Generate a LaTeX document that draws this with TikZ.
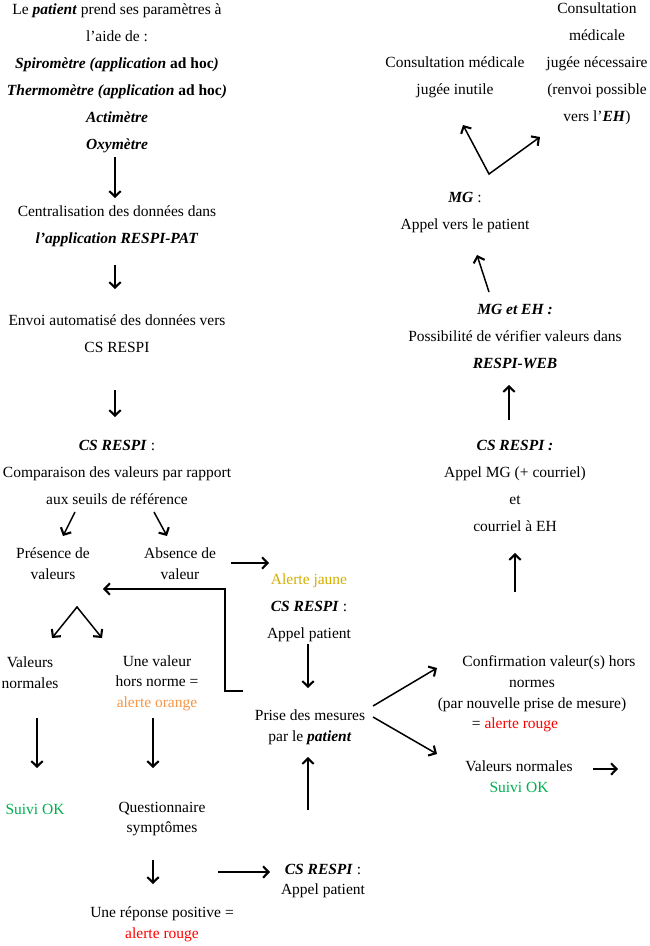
\documentclass[tikz,border=0pt]{standalone}
\usepackage{fontspec}
\setmainfont{Liberation Serif}
\usetikzlibrary{arrows.meta}
\definecolor{cjaune}{RGB}{212,176,0}
\definecolor{corange}{RGB}{247,150,70}
\definecolor{cvert}{RGB}{0,176,80}
\definecolor{crouge}{RGB}{255,0,0}
\newcommand{\bitxt}[1]{\textbf{\textit{#1}}}
\begin{document}
\begin{tikzpicture}[x=1pt,y=-1pt,
  txt/.style={align=center, inner sep=0pt, font=\fontsize{15.5}{27}\selectfont},
  txtc/.style={align=center, inner sep=0pt, font=\fontsize{15.5}{20.7}\selectfont},
  tip/.tip={Straight Barb[length=5.5pt,width=11.5pt,line width=2.1pt]},
  arr/.style={line width=1.5pt, -tip},
  darr/.style={line width=1.5pt, tip-tip}]
\useasboundingbox[fill=white] (0,0) rectangle (650,946);

% left column
\node[txt] (top) at (117,78) {Le \bitxt{patient} prend ses paramètres à\\l’aide de :\\\bitxt{Spiromètre (application} \textbf{ad hoc}\bitxt{)}\\\bitxt{Thermomètre (application} \textbf{ad hoc}\bitxt{)}\\\bitxt{Actimètre}\\\bitxt{Oxymètre}};
\node[txt] (central) at (117,226) {Centralisation des données dans\\\bitxt{l’application RESPI-PAT}};
\node[txt] (envoi) at (117,334) {Envoi automatisé des données vers\\CS RESPI};
\node[txt] (comp) at (117,472) {\bitxt{CS RESPI} :\\Comparaison des valeurs par rapport\\aux seuils de référence};
\node[txtc] (presence) at (53,564) {Présence de\\valeurs};
\node[txtc] (absence) at (180,564) {Absence de\\valeur};
\node[txtc] (valnorm) at (30,673) {Valeurs\\normales};
\node[txtc] (hors) at (157,683) {Une valeur\\hors norme =\\\textcolor{corange}{alerte orange}};
\node[txtc] (suivi) at (35,809) {\textcolor{cvert}{Suivi OK}};
\node[txtc] (quest) at (162,819) {Questionnaire\\symptômes};
\node[txtc] (reponse) at (162,924) {Une réponse positive =\\\textcolor{crouge}{alerte rouge}};

% middle
\node[txt] (jaune) at (309,608) {\textcolor{cjaune}{Alerte jaune}\\\bitxt{CS RESPI} :\\Appel patient};
\node[txtc] (prise) at (310,727) {Prise des mesures\\par le \bitxt{patient}};
\node[txtc] (appel) at (323,881) {\bitxt{CS RESPI} :\\Appel patient};

% right column
\node[txtc] (confirm) at (532,694) {\hspace*{34pt}Confirmation valeur(s) hors\\normes\hspace*{34pt}\\(par nouvelle prise de mesure)\\= \textcolor{crouge}{alerte rouge}\hspace*{34pt}};
\node[txtc] (valnorm2) at (519,777) {Valeurs normales\\\textcolor{cvert}{Suivi OK}};
\node[txt] (cs2) at (515,486) {\bitxt{CS RESPI :}\\Appel MG (+ courriel)\\et\\courriel à EH};
\node[txt] (mgeh) at (515,336) {\bitxt{MG et EH :}\\Possibilité de vérifier valeurs dans\\\bitxt{RESPI-WEB}};
\node[txt] (mg) at (465,213) {\bitxt{MG} :\\Appel vers le patient};
\node[txt] (inutile) at (455,77) {Consultation médicale\\jugée inutile};
\node[txt] (necessaire) at (597,64) {Consultation\\médicale\\jugée nécessaire\\(renvoi possible\\vers l’\bitxt{EH})};

% arrow end points
\coordinate (a1s) at (115,157); \coordinate (a1e) at (115,198);
\coordinate (a2s) at (115,265); \coordinate (a2e) at (115,289);
\coordinate (a3s) at (115,390); \coordinate (a3e) at (115,417);
\coordinate (d1s) at (75,512);  \coordinate (d1e) at (63,536);
\coordinate (d2s) at (154,512); \coordinate (d2e) at (167,536);
\coordinate (h1s) at (231,563); \coordinate (h1e) at (269,563);
\coordinate (lp1) at (243,691); \coordinate (lp2) at (225,691);
\coordinate (lp3) at (225,589); \coordinate (lp4) at (103,589);
\coordinate (vl) at (52,638); \coordinate (vv) at (77,607); \coordinate (vr) at (102,638);
\coordinate (a4s) at (37,718);  \coordinate (a4e) at (37,768);
\coordinate (a5s) at (153,718); \coordinate (a5e) at (153,768);
\coordinate (a6s) at (153,860); \coordinate (a6e) at (153,884);
\coordinate (h2s) at (218,872); \coordinate (h2e) at (270,872);
\coordinate (a7s) at (308,644); \coordinate (a7e) at (308,688);
\coordinate (a8s) at (308,810); \coordinate (a8e) at (308,757);
\coordinate (du1) at (373,706); \coordinate (du2) at (437,668);
\coordinate (dd1) at (373,717); \coordinate (dd2) at (437,754);
\coordinate (h3s) at (593,769); \coordinate (h3e) at (618,769);
\coordinate (a9s) at (515,592); \coordinate (a9e) at (515,553);
\coordinate (a10s) at (509,420); \coordinate (a10e) at (509,385);
\coordinate (a11s) at (489,292); \coordinate (a11e) at (477,255);
\coordinate (tl) at (463,125); \coordinate (tv) at (489,174); \coordinate (tr) at (540,137);

\draw[arr] (a1s) -- (a1e);
\draw[arr] (a2s) -- (a2e);
\draw[arr] (a3s) -- (a3e);
\draw[arr] (d1s) -- (d1e);
\draw[arr] (d2s) -- (d2e);
\draw[arr] (h1s) -- (h1e);
\draw[arr] (lp1) -- (lp2) -- (lp3) -- (lp4);
\draw[darr] (vl) -- (vv) -- (vr);
\draw[arr] (a4s) -- (a4e);
\draw[arr] (a5s) -- (a5e);
\draw[arr] (a6s) -- (a6e);
\draw[arr] (h2s) -- (h2e);
\draw[arr] (a7s) -- (a7e);
\draw[arr] (a8s) -- (a8e);
\draw[arr] (du1) -- (du2);
\draw[arr] (dd1) -- (dd2);
\draw[arr] (h3s) -- (h3e);
\draw[arr] (a9s) -- (a9e);
\draw[arr] (a10s) -- (a10e);
\draw[arr] (a11s) -- (a11e);
\draw[darr] (tl) -- (tv) -- (tr);
\end{tikzpicture}
\end{document}
